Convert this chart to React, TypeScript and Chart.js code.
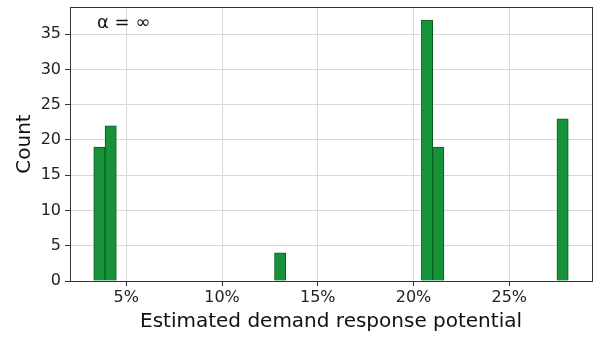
import React, { useEffect, useRef } from "react";
import { Chart, registerables } from "chart.js";

Chart.register(...registerables);

// Histogram bins (Estimated demand response potential, %)
const binStart = 3.30;
const binWidth = 0.59;
const counts: number[] = [
  19, 22, 0, 0, 0, 0, 0, 0, 0, 0,
  0, 0, 0, 0, 0, 0, 4, 0, 0, 0,
  0, 0, 0, 0, 0, 0, 0, 0, 0, 37,
  19, 0, 0, 0, 0, 0, 0, 0, 0, 0,
  0, 23,
];
const xTicks = [5, 10, 15, 20, 25];
const yTicks = [0, 5, 10, 15, 20, 25, 30, 35];
const xMin = 2.06;
const xMax = 29.32;
const yMax = 38.85;
const annotation = "α = ∞";
const xTitle = "Estimated demand response potential";
const yTitle = "Count";

const FONT = "'DejaVu Sans', sans-serif";

export default function App() {
  const ref = useRef<HTMLCanvasElement | null>(null);

  useEffect(() => {
    if (!ref.current) return;
    const data = counts.map((c, i) => ({ x: binStart + binWidth * (i + 0.5), y: c }));

    const boxPlugin = {
      id: "boxAndLabel",
      afterDatasetsDraw(chart: any) {
        const { ctx, chartArea } = chart;
        ctx.save();
        ctx.strokeStyle = "#333";
        ctx.lineWidth = 1;
        ctx.strokeRect(
          Math.round(chartArea.left) + 0.5,
          Math.round(chartArea.top) + 0.5,
          Math.round(chartArea.right - chartArea.left),
          Math.round(chartArea.bottom - chartArea.top)
        );
        ctx.fillStyle = "#111";
        ctx.font = `18px ${FONT}`;
        ctx.textBaseline = "middle";
        ctx.textAlign = "left";
        ctx.fillText(annotation, chartArea.left + 27, chartArea.top + 16);
        ctx.restore();
      },
    };

    const chart = new Chart(ref.current, {
      type: "bar",
      data: {
        datasets: [
          {
            data,
            backgroundColor: "#15923a",
            borderColor: "#0b5e1c",
            borderWidth: 1,
            barPercentage: 1,
            categoryPercentage: 1,
          },
        ],
      },
      options: {
        responsive: false,
        animation: false,
        layout: { padding: { top: 7, right: 5, left: 0, bottom: 0 } },
        plugins: { legend: { display: false }, tooltip: { enabled: false } },
        scales: {
          x: {
            type: "linear",
            min: xMin,
            max: xMax,
            offset: false,
            afterBuildTicks: (s: any) => {
              s.ticks = xTicks.map((v) => ({ value: v }));
            },
            afterFit: (s: any) => {
              s.height = 59;
              s.paddingLeft = 0;
              s.paddingRight = 0;
            },
            ticks: {
              callback: (v: any) => `${v}%`,
              color: "#222",
              font: { family: FONT, size: 16 },
              padding: 2,
              maxRotation: 0,
            },
            grid: {
              offset: false,
              color: "#d8d8d8",
              tickColor: "#333",
              tickLength: 5,
            },
            border: { display: false },
            title: {
              display: true,
              text: xTitle,
              color: "#111",
              font: { family: FONT, size: 20 },
              padding: { top: 0, bottom: 6 },
            },
          },
          y: {
            type: "linear",
            min: 0,
            max: yMax,
            afterBuildTicks: (s: any) => {
              s.ticks = yTicks.map((v) => ({ value: v }));
            },
            afterFit: (s: any) => {
              s.width = 70;
              s.paddingTop = 0;
              s.paddingBottom = 0;
            },
            ticks: {
              color: "#222",
              font: { family: FONT, size: 16 },
              padding: 4,
            },
            grid: {
              color: "#d8d8d8",
              tickColor: "#333",
              tickLength: 5,
            },
            border: { display: false },
            title: {
              display: true,
              text: yTitle,
              color: "#111",
              font: { family: FONT, size: 20 },
              padding: { top: 13, bottom: 0 },
            },
          },
        },
      },
      plugins: [boxPlugin],
    });
    return () => chart.destroy();
  }, []);

  return (
    <div style={{ position: "fixed", left: 0, top: 0, width: 597, height: 340, background: "#fff" }}>
      <canvas ref={ref} width={597} height={340} />
    </div>
  );
}
